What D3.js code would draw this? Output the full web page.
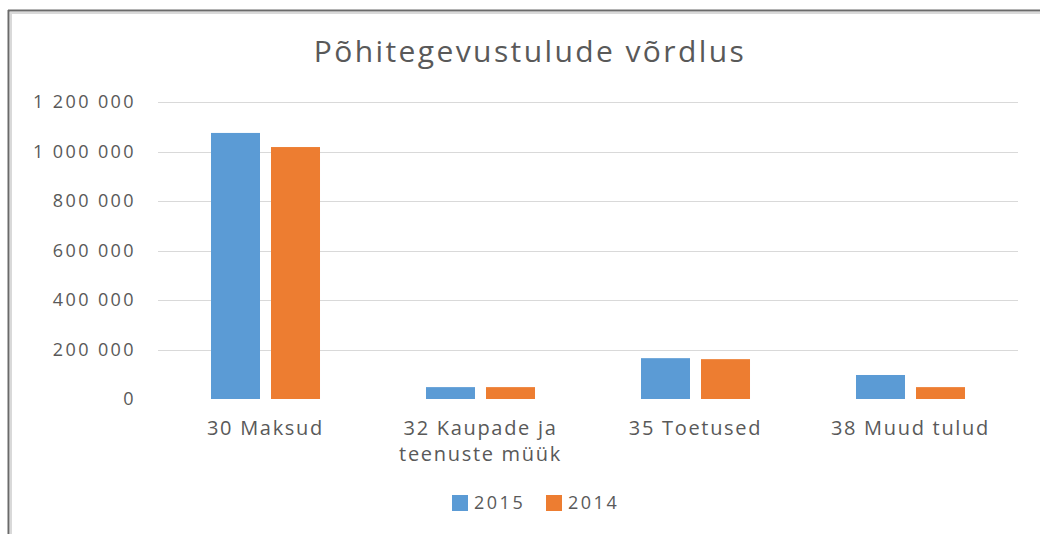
<!DOCTYPE html>
<html>
<head>
<meta charset="utf-8">
<script src="https://cdn.jsdelivr.net/npm/d3@7"></script>
<style>
  body { margin: 0; background: #fff; }
  text { font-family: "Open Sans", sans-serif; fill: #595959; }
</style>
</head>
<body>
<script>
// chart data
var categories = ["30 Maksud", "32 Kaupade ja teenuste müük", "35 Toetused", "38 Muud tulud"];
var categoryLines = [["30 Maksud"], ["32 Kaupade ja", "teenuste müük"], ["35 Toetused"], ["38 Muud tulud"]];
var seriesNames = ["2015", "2014"];
var values2015 = [1075000, 48000, 165000, 97000];
var values2014 = [1018000, 48000, 161000, 48000];
var yTicks = [0, 200000, 400000, 600000, 800000, 1000000, 1200000];
var title = "Põhitegevustulude võrdlus";

var colors = ["#5b9bd5", "#ed7d31"];

var width = 1040, height = 534;
var margin = { top: 102, right: 22, bottom: 135, left: 158 };

var svg = d3.select("body").append("svg")
    .attr("width", width)
    .attr("height", height);

// frame
svg.append("line").attr("x1", 8).attr("x2", width).attr("y1", 10.5).attr("y2", 10.5)
    .attr("stroke", "#6a6a6a").attr("stroke-width", 2);
svg.append("line").attr("x1", 10).attr("x2", width).attr("y1", 13).attr("y2", 13)
    .attr("stroke", "#d9d9d9").attr("stroke-width", 2);
svg.append("line").attr("x1", 8.5).attr("x2", 8.5).attr("y1", 10).attr("y2", height)
    .attr("stroke", "#6a6a6a").attr("stroke-width", 2);
svg.append("line").attr("x1", 11).attr("x2", 11).attr("y1", 12).attr("y2", height)
    .attr("stroke", "#d9d9d9").attr("stroke-width", 2);

var x = d3.scaleBand()
    .domain(categories)
    .range([margin.left, width - margin.right])
    .paddingInner(0.493)
    .paddingOuter(0.2465);

var x1 = d3.scaleBand()
    .domain(seriesNames)
    .range([0, x.bandwidth()])
    .paddingInner(0.1833);

var y = d3.scaleLinear()
    .domain([0, 1200000])
    .range([height - margin.bottom, margin.top]);

// gridlines
svg.append("g")
    .selectAll("line")
    .data(yTicks.filter(function (d) { return d > 0; }))
    .join("line")
    .attr("x1", margin.left)
    .attr("x2", width - margin.right)
    .attr("y1", function (d) { return Math.round(y(d)) + 0.5; })
    .attr("y2", function (d) { return Math.round(y(d)) + 0.5; })
    .attr("stroke", "#d9d9d9")
    .attr("stroke-width", 1);

// y axis labels
var fmt = function (d) { return d3.format(",")(d).replace(/,/g, " "); };
var yAxis = svg.append("g")
    .attr("transform", "translate(" + (margin.left - 22) + ",0)")
    .call(d3.axisLeft(y).tickValues(yTicks).tickFormat(fmt).tickSize(0).tickPadding(0));
yAxis.select(".domain").remove();
yAxis.selectAll("text")
    .style("font-size", "18px")
    .style("letter-spacing", "2.4px")
    .attr("fill", "#595959");

// bars
var series = [values2015, values2014];
seriesNames.forEach(function (name, s) {
    svg.append("g")
        .selectAll("rect")
        .data(categories)
        .join("rect")
        .attr("x", function (d) { return x(d) + x1(name); })
        .attr("width", x1.bandwidth())
        .attr("y", function (d, i) { return y(series[s][i]); })
        .attr("height", function (d, i) { return y(0) - y(series[s][i]); })
        .attr("fill", colors[s]);
});

// category labels
var catLabels = svg.append("g")
    .selectAll("text")
    .data(categories)
    .join("text")
    .attr("x", function (d) { return x(d) + x.bandwidth() / 2; })
    .attr("y", 435)
    .attr("text-anchor", "middle")
    .style("font-size", "20px")
    .style("letter-spacing", "1.7px");
catLabels.each(function (d, i) {
    var t = d3.select(this);
    categoryLines[i].forEach(function (line, j) {
        t.append("tspan")
            .attr("x", x(d) + x.bandwidth() / 2)
            .attr("dy", j === 0 ? 0 : 26)
            .text(line);
    });
});

// title
svg.append("text")
    .attr("x", 530)
    .attr("y", 62)
    .attr("text-anchor", "middle")
    .style("font-size", "30px")
    .style("letter-spacing", "2.4px")
    .text(title);

// legend
var legendX = [452, 546];
seriesNames.forEach(function (name, s) {
    svg.append("rect")
        .attr("x", legendX[s])
        .attr("y", 495)
        .attr("width", 16)
        .attr("height", 16)
        .attr("fill", colors[s]);
    svg.append("text")
        .attr("x", legendX[s] + 22)
        .attr("y", 509)
        .style("font-size", "18px")
        .style("letter-spacing", "2.5px")
        .text(name);
});
</script>
</body>
</html>
